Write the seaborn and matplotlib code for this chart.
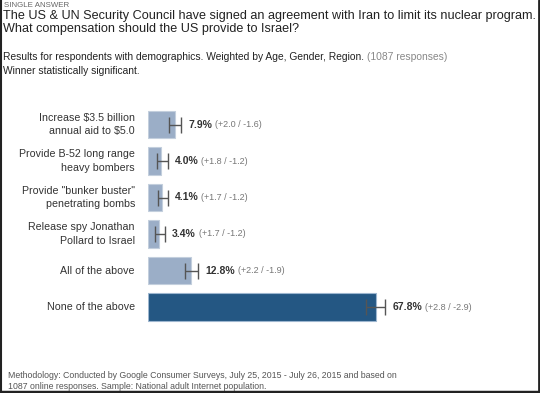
import matplotlib
matplotlib.use("Agg")
import matplotlib.pyplot as plt
import seaborn as sns
import pandas as pd

categories = ["Increase $3.5 billion\nannual aid to $5.0",
              "Provide B-52 long range\nheavy bombers",
              "Provide \"bunker buster\"\npenetrating bombs",
              "Release spy Jonathan\nPollard to Israel",
              "All of the above",
              "None of the above"]
values = [7.9, 4.0, 4.1, 3.4, 12.8, 67.8]
err_plus = [2.0, 1.8, 1.7, 1.7, 2.2, 2.8]
err_minus = [1.6, 1.2, 1.2, 1.2, 1.9, 2.9]
winner = "None of the above"

sns.set_theme(style="white")
plt.rcParams['font.family'] = ['Liberation Sans', 'DejaVu Sans']

W, H = 540, 393
fig = plt.figure(figsize=(W / 100, H / 100), dpi=100)

def px(x0, y0, w, h):
    return [x0 / W, 1 - (y0 + h) / H, w / W, h / H]

ax = fig.add_axes(px(148, 106.25, 336.3, 219))
df = pd.DataFrame({"cat": categories, "val": values})
palette = ["#245783" if c == winner else "#9baec7" for c in categories]
sns.barplot(data=df, x="val", y="cat", hue="cat", palette=palette, legend=False,
            orient="h", width=0.74, ax=ax, saturation=1, linewidth=0.8)
for patch, c in zip(ax.patches, categories):
    patch.set_edgecolor("#9db6cf" if c == winner else "#c3cfdd")
ax.set_xlim(0, 100)
ax.set_ylim(5.5, -0.5)
ax.axis("off")

# error bars
ypos = list(range(len(categories)))
eb = ax.errorbar(values, ypos, xerr=[err_minus, err_plus], fmt="none",
                 ecolor="#555555", elinewidth=1.0, capsize=5.5, capthick=1.0)
caplines = eb[1]
if len(caplines) >= 1:
    caplines[0].set_color("#8c8c8c")

fig.canvas.draw()
renderer = fig.canvas.get_renderer()
for i, (v, p, m) in enumerate(zip(values, err_plus, err_minus)):
    t1 = ax.annotate(f"{v:.1f}%", xy=(v + p, i), xytext=(5, 0), textcoords="offset points",
                     ha="left", va="center", fontsize=7.5, fontweight="bold", color="#333333")
    bb = t1.get_window_extent(renderer)
    w_pts = bb.width * 72 / fig.dpi
    ax.annotate(f"(+{p:.1f} / -{m:.1f})", xy=(v + p, i), xytext=(5 + w_pts + 2, 0),
                textcoords="offset points", ha="left", va="center", fontsize=6.5, color="#777777")

# category labels
for i, c in enumerate(categories):
    fig.text(135 / W, 1 - (124.5 + i * 36.5) / H, c, ha="right", va="center",
             fontsize=7.7, color="#333333", linespacing=1.45)

# header texts
fig.text(4 / W, 1 - 5.5 / H, "SINGLE ANSWER", fontsize=5.7, color="#666666", va="center")
fig.text(3 / W, 1 - 16 / H, "The US & UN Security Council have signed an agreement with Iran to limit its nuclear program.",
         fontsize=9.05, color="#222222", va="center")
fig.text(3 / W, 1 - 29 / H, "What compensation should the US provide to Israel?",
         fontsize=9.05, color="#222222", va="center")
t = fig.text(3 / W, 1 - 56.5 / H, "Results for respondents with demographics. Weighted by Age, Gender, Region. ",
             fontsize=7.4, color="#222222", va="center")
fig.canvas.draw()
bb = t.get_window_extent(renderer)
fig.text(bb.x1 / W, 1 - 56.5 / H, "(1087 responses)", fontsize=7.4, color="#888888", va="center")
fig.text(3 / W, 1 - 71 / H, "Winner statistically significant.", fontsize=7.4, color="#222222", va="center")

# footer
fig.text(8 / W, 1 - 375 / H, "Methodology: Conducted by Google Consumer Surveys, July 25, 2015 - July 26, 2015 and based on",
         fontsize=6.3, color="#555555", va="center")
fig.text(8 / W, 1 - 386.5 / H, "1087 online responses. Sample: National adult Internet population.",
         fontsize=6.3, color="#555555", va="center")

# frame border (left, right, bottom)
fig.add_artist(plt.Line2D([0.5 / W, 0.5 / W], [0, 1], color="#222222", lw=1.5, transform=fig.transFigure))
fig.add_artist(plt.Line2D([538.5 / W, 538.5 / W], [0, 1], color="#222222", lw=2, transform=fig.transFigure))
fig.add_artist(plt.Line2D([0, 1], [1 / H, 1 / H], color="#222222", lw=2.5, transform=fig.transFigure))

fig.savefig("out.png", dpi=100)
